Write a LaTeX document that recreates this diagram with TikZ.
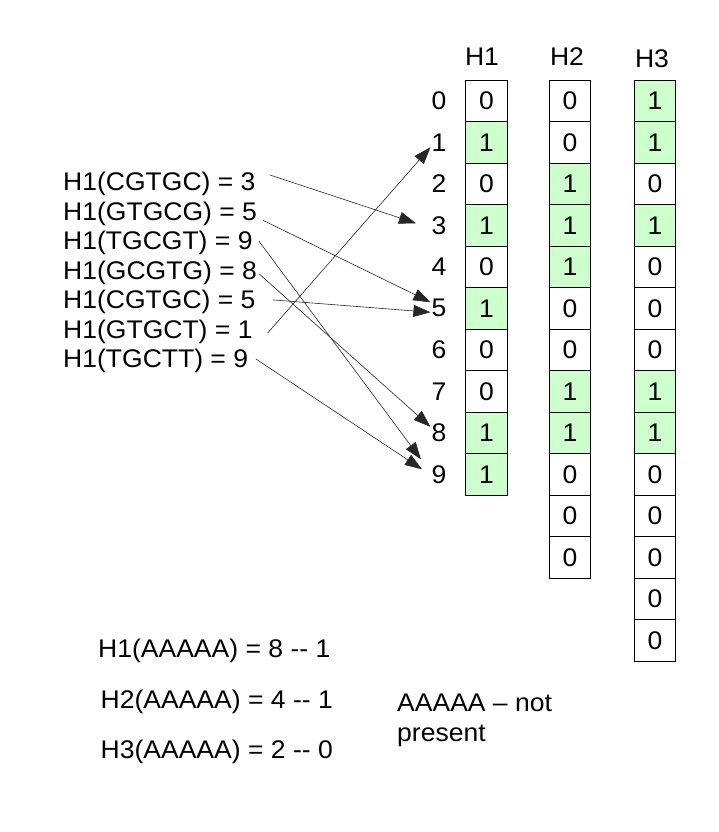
\documentclass[tikz,border=0pt]{standalone}
\usepackage{fontspec}
\setmainfont{Liberation Sans}[FakeStretch=1.04]
\usetikzlibrary{arrows.meta}
\definecolor{bitgreen}{HTML}{CCFFCC}
\tikzstyle{txt}=[inner sep=0pt,font=\fontsize{25.5}{30}\selectfont]
\tikzstyle{cell}=[txt,draw=black,line width=0.9pt,minimum width=41.5pt,minimum height=41.5pt]
\tikzstyle{bit}=[cell,fill=bitgreen]
\tikzstyle{hsh}=[-{Triangle[length=17pt,width=12pt]},line width=0.6pt,black!85]

\begin{document}
\begin{tikzpicture}[x=1pt,y=-1pt]
\useasboundingbox (0,0) rectangle (718,832);
% headers
\node[txt,anchor=base] (t1) at (482,66) {H1}; \node[txt,anchor=base] (t2) at (567,66) {H2}; \node[txt,anchor=base] (t3) at (652,68) {H3};
% row numbers
\node[txt,inner sep=1pt] (r0) at (439,100.75) {0}; \node[txt,inner sep=1pt] (r1) at (439,142.25) {1};
\node[txt,inner sep=1pt] (r2) at (439,183.75) {2}; \node[txt,inner sep=1pt] (r3) at (439,225.25) {3};
\node[txt,inner sep=1pt] (r4) at (439,266.75) {4}; \node[txt,inner sep=1pt] (r5) at (439,308.25) {5};
\node[txt,inner sep=1pt] (r6) at (439,349.75) {6}; \node[txt,inner sep=1pt] (r7) at (439,391.25) {7};
\node[txt,inner sep=1pt] (r8) at (439,432.75) {8}; \node[txt,inner sep=1pt] (r9) at (439,474.25) {9};
% H1 table
\node[cell] (a0) at (486.5,100.75) {0}; \node[bit] (a1) at (486.5,142.25) {1}; \node[cell] (a2) at (486.5,183.75) {0};
\node[bit] (a3) at (486.5,225.25) {1}; \node[cell] (a4) at (486.5,266.75) {0}; \node[bit] (a5) at (486.5,308.25) {1};
\node[cell] (a6) at (486.5,349.75) {0}; \node[cell] (a7) at (486.5,391.25) {0}; \node[bit] (a8) at (486.5,432.75) {1};
\node[bit] (a9) at (486.5,474.25) {1};
% H2 table
\node[cell] (b0) at (570,100.75) {0}; \node[cell] (b1) at (570,142.25) {0}; \node[bit] (b2) at (570,183.75) {1};
\node[bit] (b3) at (570,225.25) {1}; \node[bit] (b4) at (570,266.75) {1}; \node[cell] (b5) at (570,308.25) {0};
\node[cell] (b6) at (570,349.75) {0}; \node[bit] (b7) at (570,391.25) {1}; \node[bit] (b8) at (570,432.75) {1};
\node[cell] (b9) at (570,474.25) {0}; \node[cell] (b10) at (570,515.75) {0}; \node[cell] (b11) at (570,557.25) {0};
% H3 table
\node[bit] (c0) at (655,100.75) {1}; \node[bit] (c1) at (655,142.25) {1}; \node[cell] (c2) at (655,183.75) {0};
\node[bit] (c3) at (655,225.25) {1}; \node[cell] (c4) at (655,266.75) {0}; \node[cell] (c5) at (655,308.25) {0};
\node[cell] (c6) at (655,349.75) {0}; \node[bit] (c7) at (655,391.25) {1}; \node[bit] (c8) at (655,432.75) {1};
\node[cell] (c9) at (655,474.25) {0}; \node[cell] (c10) at (655,515.75) {0}; \node[cell] (c11) at (655,557.25) {0};
\node[cell] (c12) at (655,598.75) {0}; \node[cell] (c13) at (655,640.25) {0};
% k-mers
\node[txt,anchor=base west] (k1) at (63,190.5) {H1(CGTGC) = 3};
\node[txt,anchor=base west] (k2) at (63,220) {H1(GTGCG) = 5};
\node[txt,anchor=base west] (k3) at (63,249.5) {H1(TGCGT) = 9};
\node[txt,anchor=base west] (k4) at (63,279) {H1(GCGTG) = 8};
\node[txt,anchor=base west] (k5) at (63,308.5) {H1(CGTGC) = 5};
\node[txt,anchor=base west] (k6) at (63,338) {H1(GTGCT) = 1};
\node[txt,anchor=base west] (k7) at (63,367.5) {H1(TGCTT) = 9};
\draw[hsh] ([xshift=14pt,yshift=9pt]k1.east) -- ([xshift=-14.5pt,yshift=2pt]r3.west);
\draw[hsh] ([xshift=6pt,yshift=-7pt]k2.east) -- ([yshift=6pt]r5.west);
\draw[hsh] ([xshift=6pt,yshift=2pt]k3.east) -- ([xshift=-9.5pt,yshift=15pt]r9.west);
\draw[hsh] ([xshift=2pt,yshift=-1.5pt]k4.east) -- ([yshift=6pt]r8.west);
\draw[hsh] ([xshift=17pt,yshift=2pt]k5.east) -- ([yshift=-4pt]r5.west);
\draw[hsh] ([xshift=15pt,yshift=-1.5pt]k6.east) -- ([yshift=-5pt]r1.west);
\draw[hsh] ([xshift=7.5pt,yshift=2pt]k7.east) -- ([xshift=-8.5pt,yshift=5pt]r9.west);
% query
\node[txt,anchor=base west] (q1) at (98,657) {H1(AAAAA) = 8 -\kern0pt- 1};
\node[txt,anchor=base west] (q2) at (100.5,708) {H2(AAAAA) = 4 -\kern0pt- 1};
\node[txt,anchor=base west] (q3) at (100.5,758) {H3(AAAAA) = 2 -\kern0pt- 0};
\node[txt,anchor=north west,align=left] (note) at (397,694) {AAAAA – not\\present};
\end{tikzpicture}
\end{document}
